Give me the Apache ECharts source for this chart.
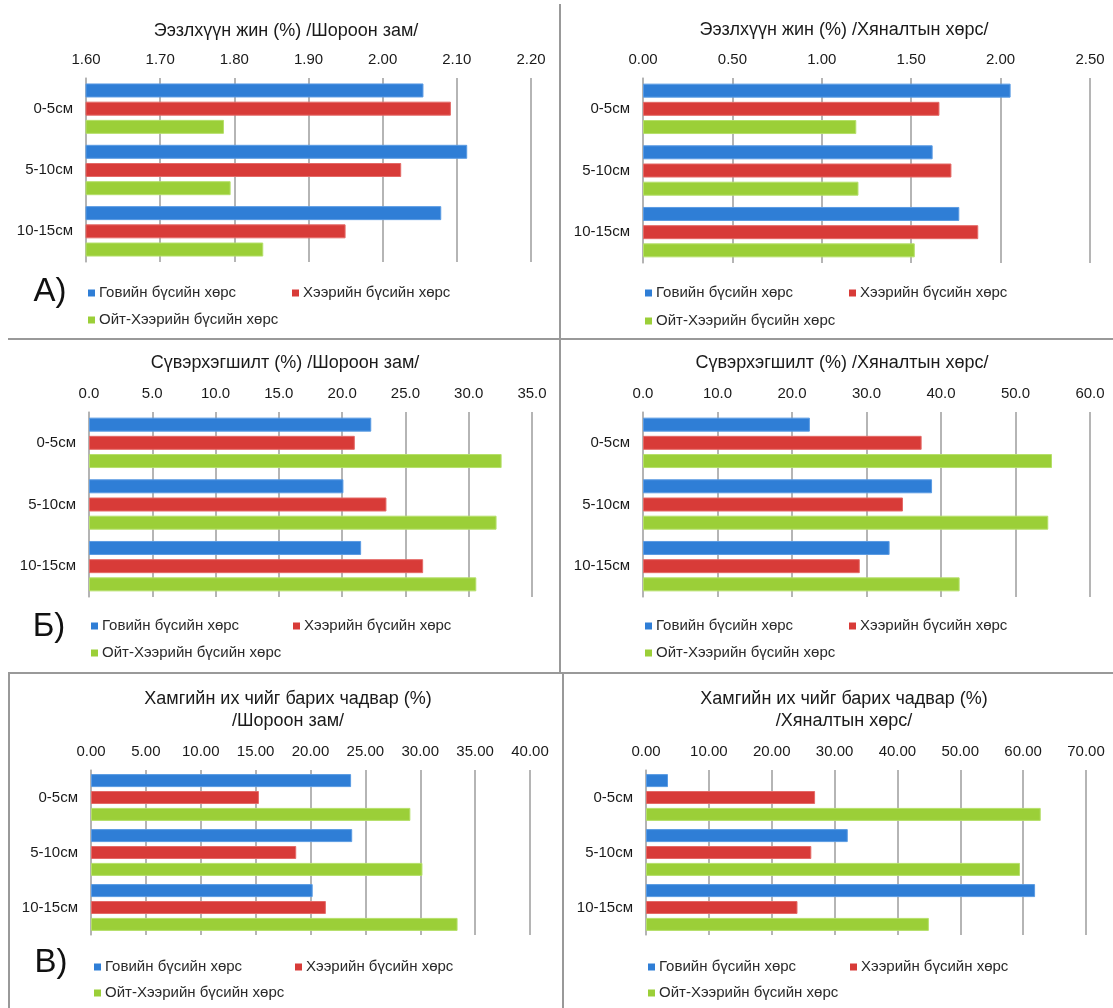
<!DOCTYPE html>
<html>
<head>
<meta charset="utf-8">
<script src="https://cdn.jsdelivr.net/npm/echarts@6/dist/echarts.min.js"></script>
<style>
html,body{margin:0;padding:0;background:#fff;}
#chart{width:1113px;height:1008px;}
</style>
</head>
<body>
<div id="chart"></div>
<script>
// ---------- DATA ----------
var categories = ['0-5см', '5-10см', '10-15см'];
var seriesNames = ['Говийн бүсийн хөрс', 'Хээрийн бүсийн хөрс', 'Ойт-Хээрийн бүсийн хөрс'];

// А) Ээзлхүүн жин (%)
var organicDirtGobi = [2.055, 2.114, 2.079];
var organicDirtSteppe = [2.092, 2.025, 1.950];
var organicDirtForest = [1.786, 1.795, 1.839];
var organicCtrlGobi = [2.056, 1.620, 1.769];
var organicCtrlSteppe = [1.658, 1.725, 1.875];
var organicCtrlForest = [1.193, 1.205, 1.520];

// Б) Сүвэрхэгшилт (%)
var porosDirtGobi = [22.3, 20.1, 21.5];
var porosDirtSteppe = [21.0, 23.5, 26.4];
var porosDirtForest = [32.6, 32.2, 30.6];
var porosCtrlGobi = [22.4, 38.8, 33.1];
var porosCtrlSteppe = [37.4, 34.9, 29.1];
var porosCtrlForest = [54.9, 54.4, 42.5];

// В) Хамгийн их чийг барих чадвар (%)
var moistDirtGobi = [23.7, 23.8, 20.2];
var moistDirtSteppe = [15.3, 18.7, 21.4];
var moistDirtForest = [29.1, 30.2, 33.4];
var moistCtrlGobi = [3.5, 32.1, 61.9];
var moistCtrlSteppe = [26.9, 26.3, 24.1];
var moistCtrlForest = [62.8, 59.5, 45.0];

var panelTitles = [
  ['Ээзлхүүн жин (%) /Шороон зам/'],
  ['Ээзлхүүн жин (%) /Хяналтын хөрс/'],
  ['Сүвэрхэгшилт (%) /Шороон зам/'],
  ['Сүвэрхэгшилт (%) /Хяналтын хөрс/'],
  ['Хамгийн их чийг барих чадвар (%)', '/Шороон зам/'],
  ['Хамгийн их чийг барих чадвар (%)', '/Хяналтын хөрс/']
];
var panelLetters = ['А)', 'Б)', 'В)'];
// axis ranges: min, max, interval, decimals
var axisMin = [1.6, 0, 0, 0, 0, 0];
var axisMax = [2.2, 2.5, 35, 60, 40, 70];
var axisInterval = [0.1, 0.5, 5, 10, 5, 10];
var axisDecimals = [2, 2, 1, 1, 2, 2];

var panelData = [
  [organicDirtGobi, organicDirtSteppe, organicDirtForest],
  [organicCtrlGobi, organicCtrlSteppe, organicCtrlForest],
  [porosDirtGobi, porosDirtSteppe, porosDirtForest],
  [porosCtrlGobi, porosCtrlSteppe, porosCtrlForest],
  [moistDirtGobi, moistDirtSteppe, moistDirtForest],
  [moistCtrlGobi, moistCtrlSteppe, moistCtrlForest]
];

// ---------- LAYOUT / STYLE ----------
var colors = ['#2f7ed6', '#d83b38', '#9bcf38'];
var borderColors = ['#5a9be3', '#e46a67', '#b5df6a'];
var FONT = "'Liberation Sans', Arial, sans-serif";

var grids = [
  {left: 86, top: 78, width: 445, height: 184},
  {left: 643, top: 78, width: 447, height: 185},
  {left: 89, top: 412, width: 443, height: 185},
  {left: 643, top: 412, width: 447, height: 185},
  {left: 91, top: 770, width: 439, height: 165},
  {left: 646, top: 770, width: 440, height: 165}
];
var barWidths = [14, 14, 14, 14, 13, 13];
var titlePos = [[286, 31], [844, 30], [285, 363], [842, 363], [288, 699], [844, 699]];
var legendPos = [
  {x1: 88, x2: 292, y1: 293, y2: 320},
  {x1: 645, x2: 849, y1: 293, y2: 321},
  {x1: 91, x2: 293, y1: 626, y2: 653},
  {x1: 645, x2: 849, y1: 626, y2: 653},
  {x1: 94, x2: 295, y1: 967, y2: 993},
  {x1: 648, x2: 850, y1: 967, y2: 993}
];
var letterPos = [[50, 292], [49, 627], [51, 963]];

var option = {
  animation: false,
  backgroundColor: '#ffffff',
  textStyle: {fontFamily: FONT},
  grid: [], xAxis: [], yAxis: [], series: [], legend: [], graphic: []
};

for (var p = 0; p < 6; p++) {
  var g = grids[p];
  option.grid.push({left: g.left, top: g.top, width: g.width, height: g.height, containLabel: false});
  (function (dec) {
    option.xAxis.push({
      type: 'value', gridIndex: p, position: 'top',
      min: axisMin[p], max: axisMax[p], interval: axisInterval[p],
      axisLine: {show: false}, axisTick: {show: false},
      splitLine: {show: true, lineStyle: {color: '#9c9c9c', width: 1.5}},
      axisLabel: {fontSize: 15, color: '#1a1a1a', margin: 11, fontFamily: FONT,
        formatter: function (v) { return v.toFixed(dec); }}
    });
  })(axisDecimals[p]);
  option.yAxis.push({
    type: 'category', gridIndex: p, data: categories, inverse: true,
    axisLine: {show: true, lineStyle: {color: '#b4b4b4', width: 1.5}},
    axisTick: {show: false},
    axisLabel: {fontSize: 15, color: '#1a1a1a', margin: 13, fontFamily: FONT}
  });
  for (var s = 0; s < 3; s++) {
    option.series.push({
      type: 'bar', name: seriesNames[s], xAxisIndex: p, yAxisIndex: p,
      data: panelData[p][s], barWidth: barWidths[p], barGap: '30%',
      itemStyle: {color: colors[s], borderColor: borderColors[s], borderWidth: 1},
      emphasis: {disabled: true}
    });
  }
  // legends: two on first row, one on second row
  var lp = legendPos[p];
  var lx = [lp.x1, lp.x2, lp.x1];
  var ly = [lp.y1, lp.y1, lp.y2];
  for (var k = 0; k < 3; k++) {
    option.legend.push({
      data: [seriesNames[k]], left: lx[k], top: ly[k] - 9, padding: 0,
      icon: 'rect', itemWidth: 7, itemHeight: 7, itemGap: 0,
      itemStyle: {borderWidth: 0},
      selectedMode: false,
      textStyle: {fontSize: 15, color: '#2a2a2a', fontFamily: FONT, padding: [0, 0, 0, -1], lineHeight: 18}
    });
  }
  // titles
  var lines = panelTitles[p];
  for (var li = 0; li < lines.length; li++) {
    option.graphic.push({
      type: 'text', x: titlePos[p][0], y: titlePos[p][1] + li * 22,
      style: {text: lines[li], font: '18px ' + FONT, fill: '#1a1a1a',
        textAlign: 'center', textVerticalAlign: 'middle', align: 'center', verticalAlign: 'middle'}
    });
  }
}
// panel letters
for (var q = 0; q < 3; q++) {
  option.graphic.push({
    type: 'text', x: letterPos[q][0], y: letterPos[q][1],
    style: {text: panelLetters[q], font: '33px ' + FONT, fill: '#111',
      textAlign: 'center', textVerticalAlign: 'middle', align: 'center', verticalAlign: 'middle'}
  });
}
// divider lines between panels
var lineStyle = {stroke: '#999', lineWidth: 2};
option.graphic.push(
  {type: 'line', shape: {x1: 560, y1: 4, x2: 560, y2: 673}, style: lineStyle},
  {type: 'line', shape: {x1: 563, y1: 673, x2: 563, y2: 1008}, style: lineStyle},
  {type: 'line', shape: {x1: 8, y1: 339, x2: 1113, y2: 339}, style: lineStyle},
  {type: 'line', shape: {x1: 8, y1: 673, x2: 1113, y2: 673}, style: lineStyle},
  {type: 'line', shape: {x1: 9, y1: 673, x2: 9, y2: 1008}, style: lineStyle}
);

var chart = echarts.init(document.getElementById('chart'), null, {renderer: 'canvas'});
chart.setOption(option);
</script>
</body>
</html>
